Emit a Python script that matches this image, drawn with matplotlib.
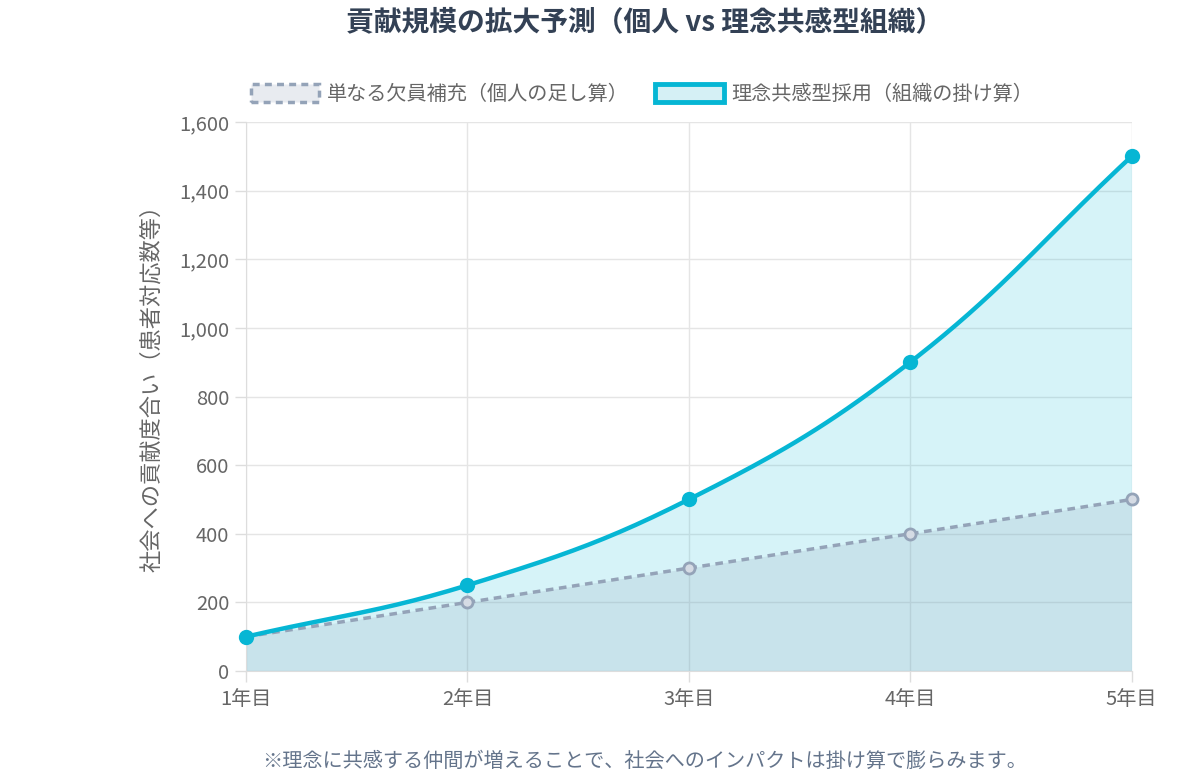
import numpy as np
import matplotlib.pyplot as plt
from matplotlib.patches import Patch

plt.rcParams['font.family'] = ['Noto Sans CJK JP', 'DejaVu Sans']

# Data
years = ['1年目', '2年目', '3年目', '4年目', '5年目']
individual = [100, 200, 300, 400, 500]
organization = [100, 250, 500, 900, 1500]

title = '貢献規模の拡大予測（個人 vs 理念共感型組織）'
label_ind = '単なる欠員補充（個人の足し算）'
label_org = '理念共感型採用（組織の掛け算）'
ylabel = '社会への貢献度合い（患者対応数等）'
note = '※理念に共感する仲間が増えることで、社会へのインパクトは掛け算で膨らみます。'

CYAN = '#06b6d4'
SLATE = '#94a3b8'


def spline(xs, ys, ax, tension=0.4, n=40):
    # Chart.js style bezier through the points (control points in pixel space)
    pts = ax.transData.transform(np.column_stack([xs, ys]))
    m = len(pts)
    cps = []
    for i in range(m):
        prev = pts[max(i - 1, 0)]
        cur = pts[i]
        nxt = pts[min(i + 1, m - 1)]
        d01 = np.hypot(*(cur - prev))
        d12 = np.hypot(*(nxt - cur))
        tot = d01 + d12
        s01 = d01 / tot if tot else 0
        s12 = d12 / tot if tot else 0
        cps.append((cur - tension * s01 * (nxt - prev), cur + tension * s12 * (nxt - prev)))
    out = [pts[0]]
    t = np.linspace(0, 1, n)[1:, None]
    for i in range(m - 1):
        p0, p3 = pts[i], pts[i + 1]
        p1, p2 = cps[i][1], cps[i + 1][0]
        seg = ((1 - t) ** 3) * p0 + 3 * ((1 - t) ** 2) * t * p1 + 3 * (1 - t) * t ** 2 * p2 + t ** 3 * p3
        out.extend(seg)
    data = ax.transData.inverted().transform(np.array(out))
    return data[:, 0], data[:, 1]


fig = plt.figure(figsize=(12, 7.79), dpi=100)
ax = fig.add_axes([0.205, 0.1386, 0.738, 0.7048])

x = np.arange(len(years))
ax.set_xlim(0, len(years) - 1)
ax.set_ylim(0, 1600)

ox, oy = spline(x, organization, ax)
ix, iy = spline(x, individual, ax)

ax.fill_between(ox, oy, 0, color=CYAN, alpha=0.16, lw=0, zorder=1)
ax.fill_between(ix, iy, 0, color=SLATE, alpha=0.2, lw=0, zorder=2)
ax.plot(ix, iy, color=SLATE, lw=2.5, ls=(0, (2.2, 1.6)), zorder=3)
ax.plot(ox, oy, color=CYAN, lw=3.2, zorder=4, solid_capstyle='round')
ax.plot(x, individual, 'o', ms=8, mfc='#d5dbe4', mec=SLATE, mew=2, zorder=5, clip_on=False)
ax.plot(x, organization, 'o', ms=9, mfc=CYAN, mec=CYAN, mew=2, zorder=6, clip_on=False)

ax.set_xticks(x)
ax.set_xticklabels(years)
ax.set_yticks(np.arange(0, 1601, 200))
ax.set_yticklabels([f'{v:,}' for v in range(0, 1601, 200)])
ax.tick_params(colors='#dddddd', labelcolor='#666666', labelsize=14.5, length=8, width=1)
ax.tick_params(axis='x', pad=5)
ax.tick_params(axis='y', pad=4)
ax.grid(True, color='#e5e5e5', lw=1)
ax.set_axisbelow(True)
for s in ['top', 'right']:
    ax.spines[s].set_visible(False)
ax.spines['left'].set_color('#dddddd')
ax.spines['bottom'].set_color('#dddddd')
ax.set_ylabel(ylabel, fontsize=16, color='#666666')
ax.yaxis.set_label_coords(-0.094, 0.525)

handles = [
    Patch(facecolor='#e8ebf0', edgecolor=SLATE, lw=2.5, ls=(0, (2, 1.5))),
    Patch(facecolor='#d5f0f5', edgecolor=CYAN, lw=3.5),
]
fig.legend(handles, [label_ind, label_org], loc='center', bbox_to_anchor=(0.535, 0.879),
           ncol=2, frameon=False, fontsize=14.5, handlelength=3.4, handleheight=1.0,
           columnspacing=1.3, handletextpad=0.4, labelcolor='#666666')

fig.text(0.537, 0.972, title, ha='center', va='center', fontsize=20, fontweight='bold', color='#334155')
fig.text(0.537, 0.022, note, ha='center', va='center', fontsize=14.5, color='#64748b')

fig.savefig('out.png', dpi=100)
